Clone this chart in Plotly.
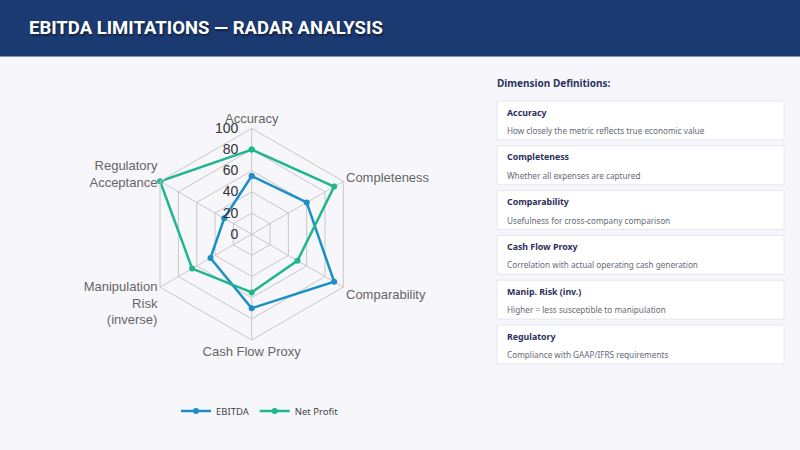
import plotly.graph_objects as go

dimensions = ["Accuracy", "Completeness", "Comparability", "Cash Flow Proxy",
              "Manipulation<br>Risk<br>(inverse)", "Regulatory<br>Acceptance"]
ebitda = [55, 60, 90, 70, 45, 30]
net_profit = [80, 90, 50, 55, 65, 100]
radial_ticks = [0, 20, 40, 60, 80, 100]

card_titles = ["Accuracy", "Completeness", "Comparability", "Cash Flow Proxy",
               "Manip. Risk (inv.)", "Regulatory"]
card_texts = ["How closely the metric reflects true economic value",
              "Whether all expenses are captured",
              "Usefulness for cross-company comparison",
              "Correlation with actual operating cash generation",
              "Higher = less susceptible to manipulation",
              "Compliance with GAAP/IFRS requirements"]

W, H = 800, 450
BLUE = "#1b8fc6"
GREEN = "#1fb68f"


def py(px):
    # pixel y from top -> paper y
    return 1 - px / H


def closed(vals):
    return vals + vals[:1]


theta = closed(dimensions)

fig = go.Figure()
fig.add_trace(go.Scatterpolar(r=closed(ebitda), theta=theta, name="EBITDA",
                              mode="lines+markers",
                              line=dict(color=BLUE, width=2.5),
                              marker=dict(size=6, color=BLUE)))
fig.add_trace(go.Scatterpolar(r=closed(net_profit), theta=theta, name="Net Profit",
                              mode="lines+markers",
                              line=dict(color=GREEN, width=2.5),
                              marker=dict(size=6, color=GREEN)))

cx, cy, rad = 251.7, 234.2, 105.8
shapes = []
annotations = []

# header bar
shapes.append(dict(type="rect", xref="paper", yref="paper", x0=0, x1=1,
                   y0=py(56), y1=1, fillcolor="#1c3a72", line=dict(width=0), layer="below"))
shapes.append(dict(type="line", xref="paper", yref="paper", x0=0, x1=1,
                   y0=py(56.5), y1=py(56.5), line=dict(color="#8a93a8", width=1)))
annotations.append(dict(text="EBITDA LIMITATIONS — RADAR ANALYSIS", xref="paper", yref="paper",
                        x=27 / W, y=py(28), xanchor="left", yanchor="middle", showarrow=False,
                        font=dict(family="Roboto", size=18.5, color="white", weight="bold",
                                  shadow="1px 2px 2px rgba(0,0,0,0.45)")))

# definition panel
annotations.append(dict(text="Dimension Definitions:", xref="paper", yref="paper",
                        x=495 / W, y=py(83), xanchor="left", yanchor="middle", showarrow=False,
                        font=dict(family="Noto Sans", size=10, color="#2a3560", weight="bold")))
for i, (t, d) in enumerate(zip(card_titles, card_texts)):
    top = 101 + 44.8 * i
    shapes.append(dict(type="rect", xref="paper", yref="paper", x0=497 / W, x1=784 / W,
                       y0=py(top + 39), y1=py(top), fillcolor="white",
                       line=dict(color="#e4e5ee", width=1), layer="below"))
    annotations.append(dict(text=t, xref="paper", yref="paper", x=505 / W, y=py(top + 11.5),
                            xanchor="left", yanchor="middle", showarrow=False,
                            font=dict(family="Noto Sans", size=8.8, color="#2b2f5c", weight="bold")))
    annotations.append(dict(text=d, xref="paper", yref="paper", x=505 / W, y=py(top + 29.5),
                            xanchor="left", yanchor="middle", showarrow=False,
                            font=dict(family="Noto Sans", size=8.2, color="#666a75")))

fig.update_layout(
    width=W, height=H,
    margin=dict(l=0, r=0, t=0, b=0),
    paper_bgcolor="#f7f7fb",
    plot_bgcolor="#f7f7fb",
    font=dict(family="Liberation Sans, Arial", color="#666"),
    shapes=shapes,
    annotations=annotations,
    polar=dict(
        domain=dict(x=[(cx - rad) / W, (cx + rad) / W], y=[py(cy + rad), py(cy - rad)]),
        bgcolor="rgba(0,0,0,0)",
        gridshape="linear",
        angularaxis=dict(rotation=90, direction="clockwise",
                         gridcolor="#c8c8c8", linecolor="#c8c8c8", linewidth=1,
                         tickfont=dict(size=13, color="#666"), ticks=""),
        radialaxis=dict(range=[0, 100], tickvals=radial_ticks, angle=90,
                        side="counterclockwise", tickangle=90,
                        gridcolor="#c8c8c8", showline=False,
                        ticks="outside", ticklen=8, tickcolor="rgba(0,0,0,0)",
                        tickfont=dict(size=14, color="#333")),
    ),
    showlegend=True,
    legend=dict(orientation="h", x=260 / W, y=py(411), xanchor="center", yanchor="middle",
                font=dict(family="Noto Sans", size=9.5, color="#444"), itemwidth=30,
                bgcolor="rgba(0,0,0,0)"),
)

fig.write_html("out.html", config={"displayModeBar": False},
               post_script="document.body.style.margin='0';")
